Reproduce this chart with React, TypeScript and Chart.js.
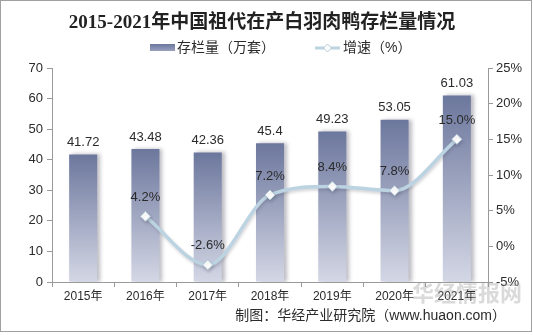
import React, { useEffect, useRef } from 'react';
import { Chart, registerables } from 'chart.js';

Chart.register(...registerables);

const titleText = '2015-2021年中国祖代在产白羽肉鸭存栏量情况';
const barLegend = '存栏量（万套）';
const lineLegend = '增速（%）';
const sourceText = '制图：华经产业研究院（www.huaon.com）';
const watermarkText = '华经情报网';
const categories = ['2015年', '2016年', '2017年', '2018年', '2019年', '2020年', '2021年'];
const stockValues = [41.72, 43.48, 42.36, 45.4, 49.23, 53.05, 61.03];
const stockLabels = ['41.72', '43.48', '42.36', '45.4', '49.23', '53.05', '61.03'];
const growthValues: (number | null)[] = [null, 4.2, -2.6, 7.2, 8.4, 7.8, 15.0];
const leftAxis = { min: 0, max: 70, step: 10 };
const rightAxis = { min: -5, max: 25, step: 5 };

const FONT = "'Liberation Sans', Arial, 'Noto Sans CJK SC', sans-serif";
const TXT = '#2b2b2b';
const AXIS = '#9a9a9a';
const LINE = '#bcd3e2';

export default function App() {
  const ref = useRef<HTMLCanvasElement>(null);

  useEffect(() => {
    document.body.style.margin = '0';
    const decor = {
      id: 'decor',
      beforeDatasetDraw(chart: any, args: any) {
        const c = chart.ctx;
        c.save();
        if (args.index === 0) {
          c.shadowColor = 'rgba(60,60,80,0.35)';
          c.shadowOffsetX = 3;
          c.shadowOffsetY = 0;
          c.shadowBlur = 4;
        } else {
          c.shadowColor = 'rgba(80,80,100,0.25)';
          c.shadowOffsetX = 1;
          c.shadowOffsetY = 2;
          c.shadowBlur = 3;
        }
      },
      afterDatasetDraw(chart: any) {
        chart.ctx.restore();
      },
      afterDatasetsDraw(chart: any) {
        const c = chart.ctx;
        c.save();
        c.font = `13px ${FONT}`;
        c.fillStyle = TXT;
        c.textAlign = 'center';
        c.textBaseline = 'middle';
        chart.getDatasetMeta(0).data.forEach((el: any, i: number) => {
          c.fillText(stockLabels[i], el.x, el.y - 12);
        });
        chart.getDatasetMeta(1).data.forEach((el: any, i: number) => {
          const v = growthValues[i];
          if (v === null) return;
          c.fillText(v.toFixed(1) + '%', el.x, el.y - 19);
        });
        c.restore();
      },
      afterDraw(chart: any) {
        const c = chart.ctx;
        c.save();
        c.strokeStyle = '#a0a0a0';
        c.lineWidth = 1;
        c.strokeRect(0.5, 0.5, 531, 331);
        c.fillStyle = '#222';
        c.textAlign = 'center';
        c.textBaseline = 'middle';
        c.font = "bold 19px 'Liberation Serif', 'DejaVu Serif', 'Noto Sans CJK SC', serif";
        c.fillText(titleText, 262, 23);
        c.font = `14px ${FONT}`;
        c.textAlign = 'left';
        const lg = c.createLinearGradient(0, 44, 0, 51);
        lg.addColorStop(0, '#6c779d');
        lg.addColorStop(1, '#9aa1bf');
        c.fillStyle = lg;
        c.fillRect(150, 44, 25, 7);
        c.fillStyle = TXT;
        c.fillText(barLegend, 177, 48);
        c.strokeStyle = LINE;
        c.lineWidth = 3;
        c.beginPath();
        c.moveTo(315, 48);
        c.lineTo(340, 48);
        c.stroke();
        c.fillStyle = '#fff';
        c.strokeStyle = '#b5cbd9';
        c.lineWidth = 1;
        c.beginPath();
        c.moveTo(327.5, 44);
        c.lineTo(331.5, 48);
        c.lineTo(327.5, 52);
        c.lineTo(323.5, 48);
        c.closePath();
        c.fill();
        c.stroke();
        c.fillStyle = TXT;
        c.fillText(lineLegend, 343, 48);
        c.font = `bold 22px 'Noto Sans CJK SC', sans-serif`;
        c.fillStyle = 'rgba(150,150,150,0.35)';
        c.textAlign = 'left';
        c.fillText(watermarkText, 412, 293);
        c.font = `14px ${FONT}`;
        c.fillStyle = TXT;
        c.textAlign = 'right';
        c.fillText(sourceText, 506, 316);
        c.restore();
      },
    };

    const chart = new Chart(ref.current!, {
      type: 'bar',
      data: {
        labels: categories,
        datasets: [
          {
            type: 'bar',
            label: barLegend,
            data: stockValues,
            yAxisID: 'y',
            order: 2,
            categoryPercentage: 1,
            barPercentage: 0.45,
            backgroundColor: (ctx: any) => {
              const chart = ctx.chart;
              const area = chart.chartArea;
              if (!area || ctx.raw === undefined) return '#7d86a8';
              const top = chart.scales.y.getPixelForValue(ctx.raw);
              const g = chart.ctx.createLinearGradient(0, top, 0, area.bottom);
              g.addColorStop(0, '#6c779d');
              g.addColorStop(1, '#d4d7e5');
              return g;
            },
            borderWidth: 0,
          },
          {
            type: 'line',
            label: lineLegend,
            data: growthValues,
            yAxisID: 'y1',
            order: 1,
            borderColor: LINE,
            borderWidth: 3.5,
            cubicInterpolationMode: 'monotone',
            spanGaps: true,
            pointStyle: 'rectRot',
            pointRadius: 5,
            pointBackgroundColor: '#ffffff',
            pointBorderColor: '#b5cbd9',
            pointBorderWidth: 1,
          } as any,
        ],
      },
      options: {
        responsive: false,
        animation: false,
        layout: { padding: { top: 68, left: 10, right: 5, bottom: 33 } },
        plugins: {
          legend: { display: false },
          title: { display: false },
          tooltip: { enabled: false },
        },
        scales: {
          x: {
            grid: { offset: true, drawOnChartArea: false, tickLength: 5, color: AXIS },
            border: { color: AXIS },
            ticks: { color: TXT, font: { size: 12, family: FONT }, padding: 2 },
            afterFit: (s: any) => { s.height = 20; },
          },
          y: {
            position: 'left',
            min: leftAxis.min,
            max: leftAxis.max,
            grid: { drawOnChartArea: false, tickLength: 5, color: AXIS },
            border: { color: AXIS },
            ticks: { stepSize: leftAxis.step, color: TXT, font: { size: 13, family: FONT }, padding: 4 },
            afterFit: (s: any) => { s.width = 42; },
          },
          y1: {
            position: 'right',
            min: rightAxis.min,
            max: rightAxis.max,
            grid: { drawOnChartArea: false, tickLength: 5, color: AXIS },
            border: { color: AXIS },
            ticks: {
              stepSize: rightAxis.step,
              color: TXT,
              font: { size: 13, family: FONT },
              padding: 3,
              callback: (v: any) => v + '%',
            },
            afterFit: (s: any) => { s.width = 40; },
          },
        },
      },
      plugins: [decor],
    });
    return () => chart.destroy();
  }, []);

  return <canvas ref={ref} width={533} height={335} style={{ display: 'block' }} />;
}
